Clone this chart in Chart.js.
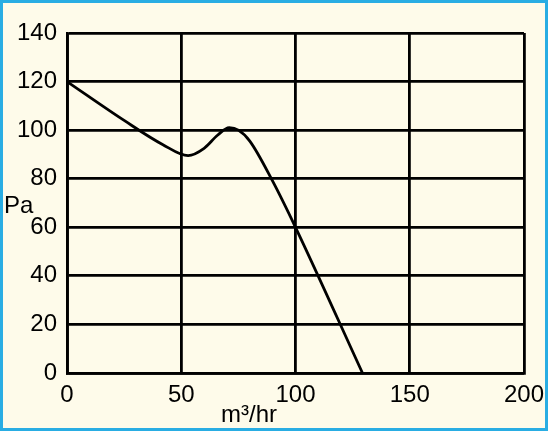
<!DOCTYPE html>
<html>
<head>
<meta charset="utf-8">
<script src="https://cdn.jsdelivr.net/npm/chart.js@4/dist/chart.umd.min.js"></script>
<style>
  html, body { margin: 0; padding: 0; background: #fefbea; }
  #wrap { position: relative; width: 548px; height: 431px; }
  #frame {
    position: absolute; left: 0; top: 0; width: 548px; height: 431px;
    box-sizing: border-box; border: 3px solid #29ade3; pointer-events: none;
  }
</style>
</head>
<body>
<div id="wrap">
  <canvas id="fanChart" width="548" height="431"></canvas>
  <div id="frame"></div>
</div>
<script>
// flow (m³/hr) vs pressure (Pa)
const flow     = [0,   25,  42, 53,   60,   66, 71,  75,  80,   90, 100, 129.3];
const pressure = [120, 104, 94, 89.5, 92.5, 98, 101, 100, 95.5, 79, 60,  0];
const xTicks = [0, 50, 100, 150, 200];
const yTicks = [0, 20, 40, 60, 80, 100, 120, 140];

const font = { family: 'Liberation Sans, Arial, sans-serif', size: 24 };

const axisTitles = {
  id: 'axisTitles',
  afterDraw(chart) {
    const c = chart.ctx;
    c.save();
    c.fillStyle = '#000';
    c.font = '24px Liberation Sans, Arial, sans-serif';
    c.textBaseline = 'alphabetic';
    c.textAlign = 'left';
    c.fillText('Pa', 4, 213);
    c.fillText('m³/hr', 221, 422);
    c.restore();
  }
};

let ctx = document.getElementById('fanChart').getContext('2d');
let fanChart = new Chart(ctx, {
  type: 'line',
  data: {
    datasets: [{
      data: flow.map((x, i) => ({ x: x, y: pressure[i] })),
      borderColor: '#000',
      borderWidth: 2.8,
      pointRadius: 0,
      fill: false,
      cubicInterpolationMode: 'monotone'
    }]
  },
  options: {
    responsive: false,
    animation: false,
    layout: { padding: { top: 33, right: 24, left: 0, bottom: 0 } },
    plugins: { legend: { display: false }, tooltip: { enabled: false } },
    scales: {
      x: {
        type: 'linear', min: 0, max: 200,
        afterBuildTicks: s => { s.ticks = xTicks.map(v => ({ value: v })); },
        afterFit: s => { s.height = 58; s.paddingLeft = 0; s.paddingRight = 0; },
        grid: { color: '#000', lineWidth: 2.8, drawTicks: false },
        border: { color: '#000', width: 2.8 },
        ticks: { color: '#000', font: font, padding: 8, maxRotation: 0 }
      },
      y: {
        min: 0, max: 140,
        afterBuildTicks: s => { s.ticks = yTicks.map(v => ({ value: v })); },
        afterFit: s => { s.width = 67; s.paddingTop = 0; s.paddingBottom = 0; },
        grid: { color: '#000', lineWidth: 2.8, drawTicks: false },
        border: { color: '#000', width: 2.8 },
        ticks: { color: '#000', font: font, padding: 10 }
      }
    }
  },
  plugins: [axisTitles]
});
</script>
</body>
</html>
